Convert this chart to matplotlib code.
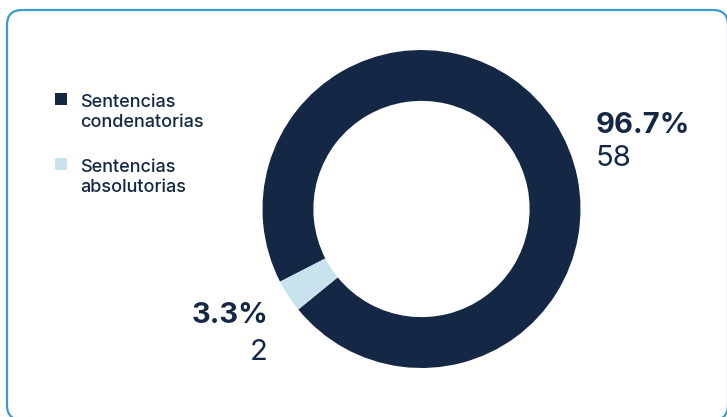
import matplotlib
matplotlib.use("Agg")
import matplotlib.pyplot as plt
from matplotlib.patches import FancyBboxPatch, Rectangle

categories = ["Sentencias\ncondenatorias", "Sentencias\nabsolutorias"]
values = [58, 2]
percent_labels = ["96.7%", "3.3%"]
colors = ["#142846", "#c8e2ee"]
text_color = "#142846"
border_color = "#3a9bcc"

plt.rcParams['font.family'] = ['Inter', 'DejaVu Sans']

W, H = 727, 417
fig = plt.figure(figsize=(W / 100, H / 100), dpi=100)

# overlay axes in pixel coordinates (y measured from top, converted)
ov = fig.add_axes([0, 0, 1, 1])
ov.set_xlim(0, W)
ov.set_ylim(0, H)
ov.axis("off")

def Y(y):
    return H - y

border = FancyBboxPatch((7, Y(420)), 721, 410, boxstyle="round,pad=0,rounding_size=15",
                        fill=False, edgecolor=border_color, linewidth=1.6)
ov.add_patch(border)

# donut
cx, cy, R = 421.5, 209, 159
ax = fig.add_axes([(cx - R) / W, (H - cy - R) / H, 2 * R / W, 2 * R / H])
ax.pie(values, colors=colors, startangle=219.2, counterclock=True,
       radius=1, wedgeprops=dict(width=0.32, linewidth=0))
ax.set_xlim(-1, 1)
ax.set_ylim(-1, 1)
ax.axis("off")

# legend
legend_y = [93, 158]
for cat, col, y in zip(categories, colors, legend_y):
    ov.add_patch(Rectangle((55, Y(y + 12)), 12, 12, facecolor=col, edgecolor="none"))
    l1, l2 = cat.split("\n")
    ov.text(80, Y(y + 14), l1, fontsize=13, fontweight="medium", color=text_color,
            va="baseline", ha="left")
    ov.text(80, Y(y + 34), l2, fontsize=13, fontweight="medium", color=text_color,
            va="baseline", ha="left")

# value labels
ov.text(596, Y(133), percent_labels[0], fontsize=21, fontweight="bold", color=text_color,
        ha="left", va="baseline")
ov.text(596, Y(166), str(values[0]), fontsize=21, color=text_color, ha="left", va="baseline")
ov.text(268, Y(323), percent_labels[1], fontsize=21, fontweight="bold", color=text_color,
        ha="right", va="baseline")
ov.text(268, Y(360), str(values[1]), fontsize=21, color=text_color, ha="right", va="baseline")

fig.savefig("out.png", dpi=100)
